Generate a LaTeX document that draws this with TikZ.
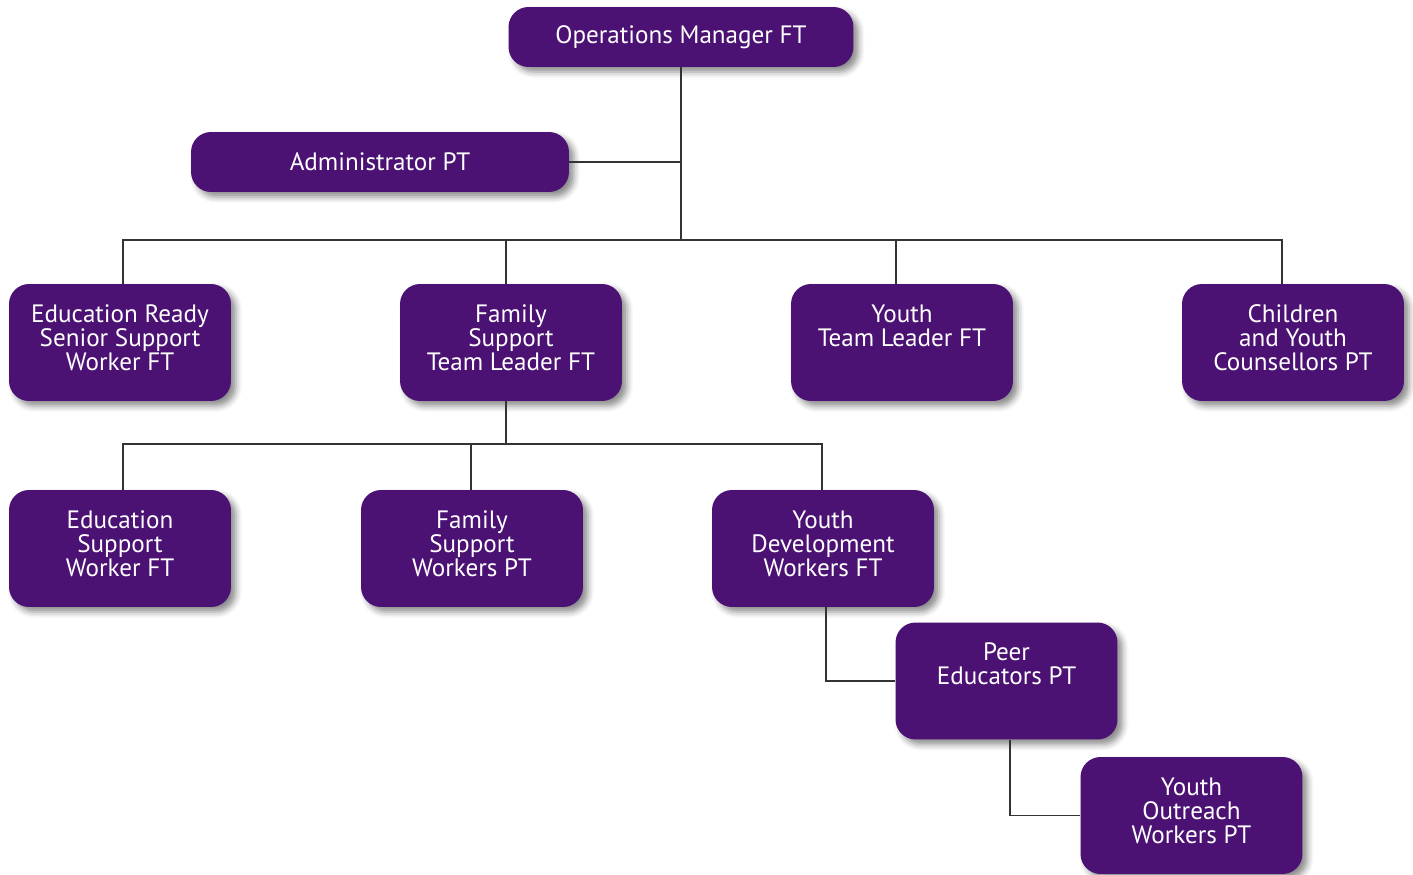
\documentclass[tikz,border=0pt]{standalone}
\usepackage{fontspec}
\setmainfont{PT Sans}
\usetikzlibrary{shadows.blur}
\definecolor{plum}{RGB}{75,18,116}
\newcommand{\rolefont}{\fontsize{14.3pt}{13.66pt}\selectfont}
\newcommand{\rolelines}[1]{\vbox to 2.34cm{\hsize=4.44cm\parindent=0pt\centering\vskip 0.41cm\relax #1\par\vfil}}

\begin{document}
\begin{tikzpicture}[x=0.02cm,y=-0.02cm,
    role/.style={fill=plum, rounded corners=0.4cm, inner sep=0pt, text=white, font=\rolefont,
      blur shadow={shadow xshift=0.1cm, shadow yshift=-0.1cm, shadow blur radius=0.12cm, shadow opacity=45}},
    link/.style={draw=black!80, line width=0.8pt}]
  \useasboundingbox (0,0) rectangle (1413,875);

  \node[role, minimum width=6.9cm, minimum height=1.2cm]  (OM) at (681,37)  {Operations Manager FT};
  \node[role, minimum width=7.56cm, minimum height=1.2cm] (AD) at (380,162) {Administrator PT};

  \node[role] (ER) at (120,342.5)  {\rolelines{Education Ready\\Senior Support\\Worker FT}};
  \node[role] (FT) at (511,342.5)  {\rolelines{Family\\Support\\Team Leader FT}};
  \node[role] (YT) at (902,342.5)  {\rolelines{Youth\\Team Leader FT}};
  \node[role] (CY) at (1293,342.5) {\rolelines{Children\\and Youth\\Counsellors PT}};

  \node[role] (ES) at (120,548.5) {\rolelines{Education\\Support\\Worker FT}};
  \node[role] (FW) at (472,548.5) {\rolelines{Family\\Support\\Workers PT}};
  \node[role] (YD) at (823,548.5) {\rolelines{Youth\\Development\\Workers FT}};

  \node[role] (PE) at (1006.5,681)  {\rolelines{Peer\\Educators PT}};
  \node[role] (YO) at (1191.5,815.5) {\rolelines{Youth\\Outreach\\Workers PT}};

  % top level
  \coordinate (TW) at (123,240);
  \coordinate (TF) at (506,240);
  \coordinate (TY) at (896,240);
  \coordinate (TE) at (1282,240);
  \draw[link] (OM.south) -- (OM.south |- TW);
  \draw[link] (AD.east) -- (AD.east -| OM.south);
  \draw[link] (TW |- ER.north) -- (TW) -- (TE) -- (TE |- CY.north);
  \draw[link] (TF) -- (TF |- FT.north);
  \draw[link] (TY) -- (TY |- YT.north);

  % family support branch
  \coordinate (LW) at (123,444);
  \coordinate (LF) at (506,444);
  \coordinate (LM) at (471,444);
  \coordinate (LE) at (822,444);
  \draw[link] (LF |- FT.south) -- (LF);
  \draw[link] (LW |- ES.north) -- (LW) -- (LE) -- (LE |- YD.north);
  \draw[link] (LM) -- (LM |- FW.north);

  \draw[link] ([xshift=0.06cm]YD.south) |- (PE.west);
  \draw[link] ([xshift=0.07cm]PE.south) |- (YO.west);
\end{tikzpicture}
\end{document}
